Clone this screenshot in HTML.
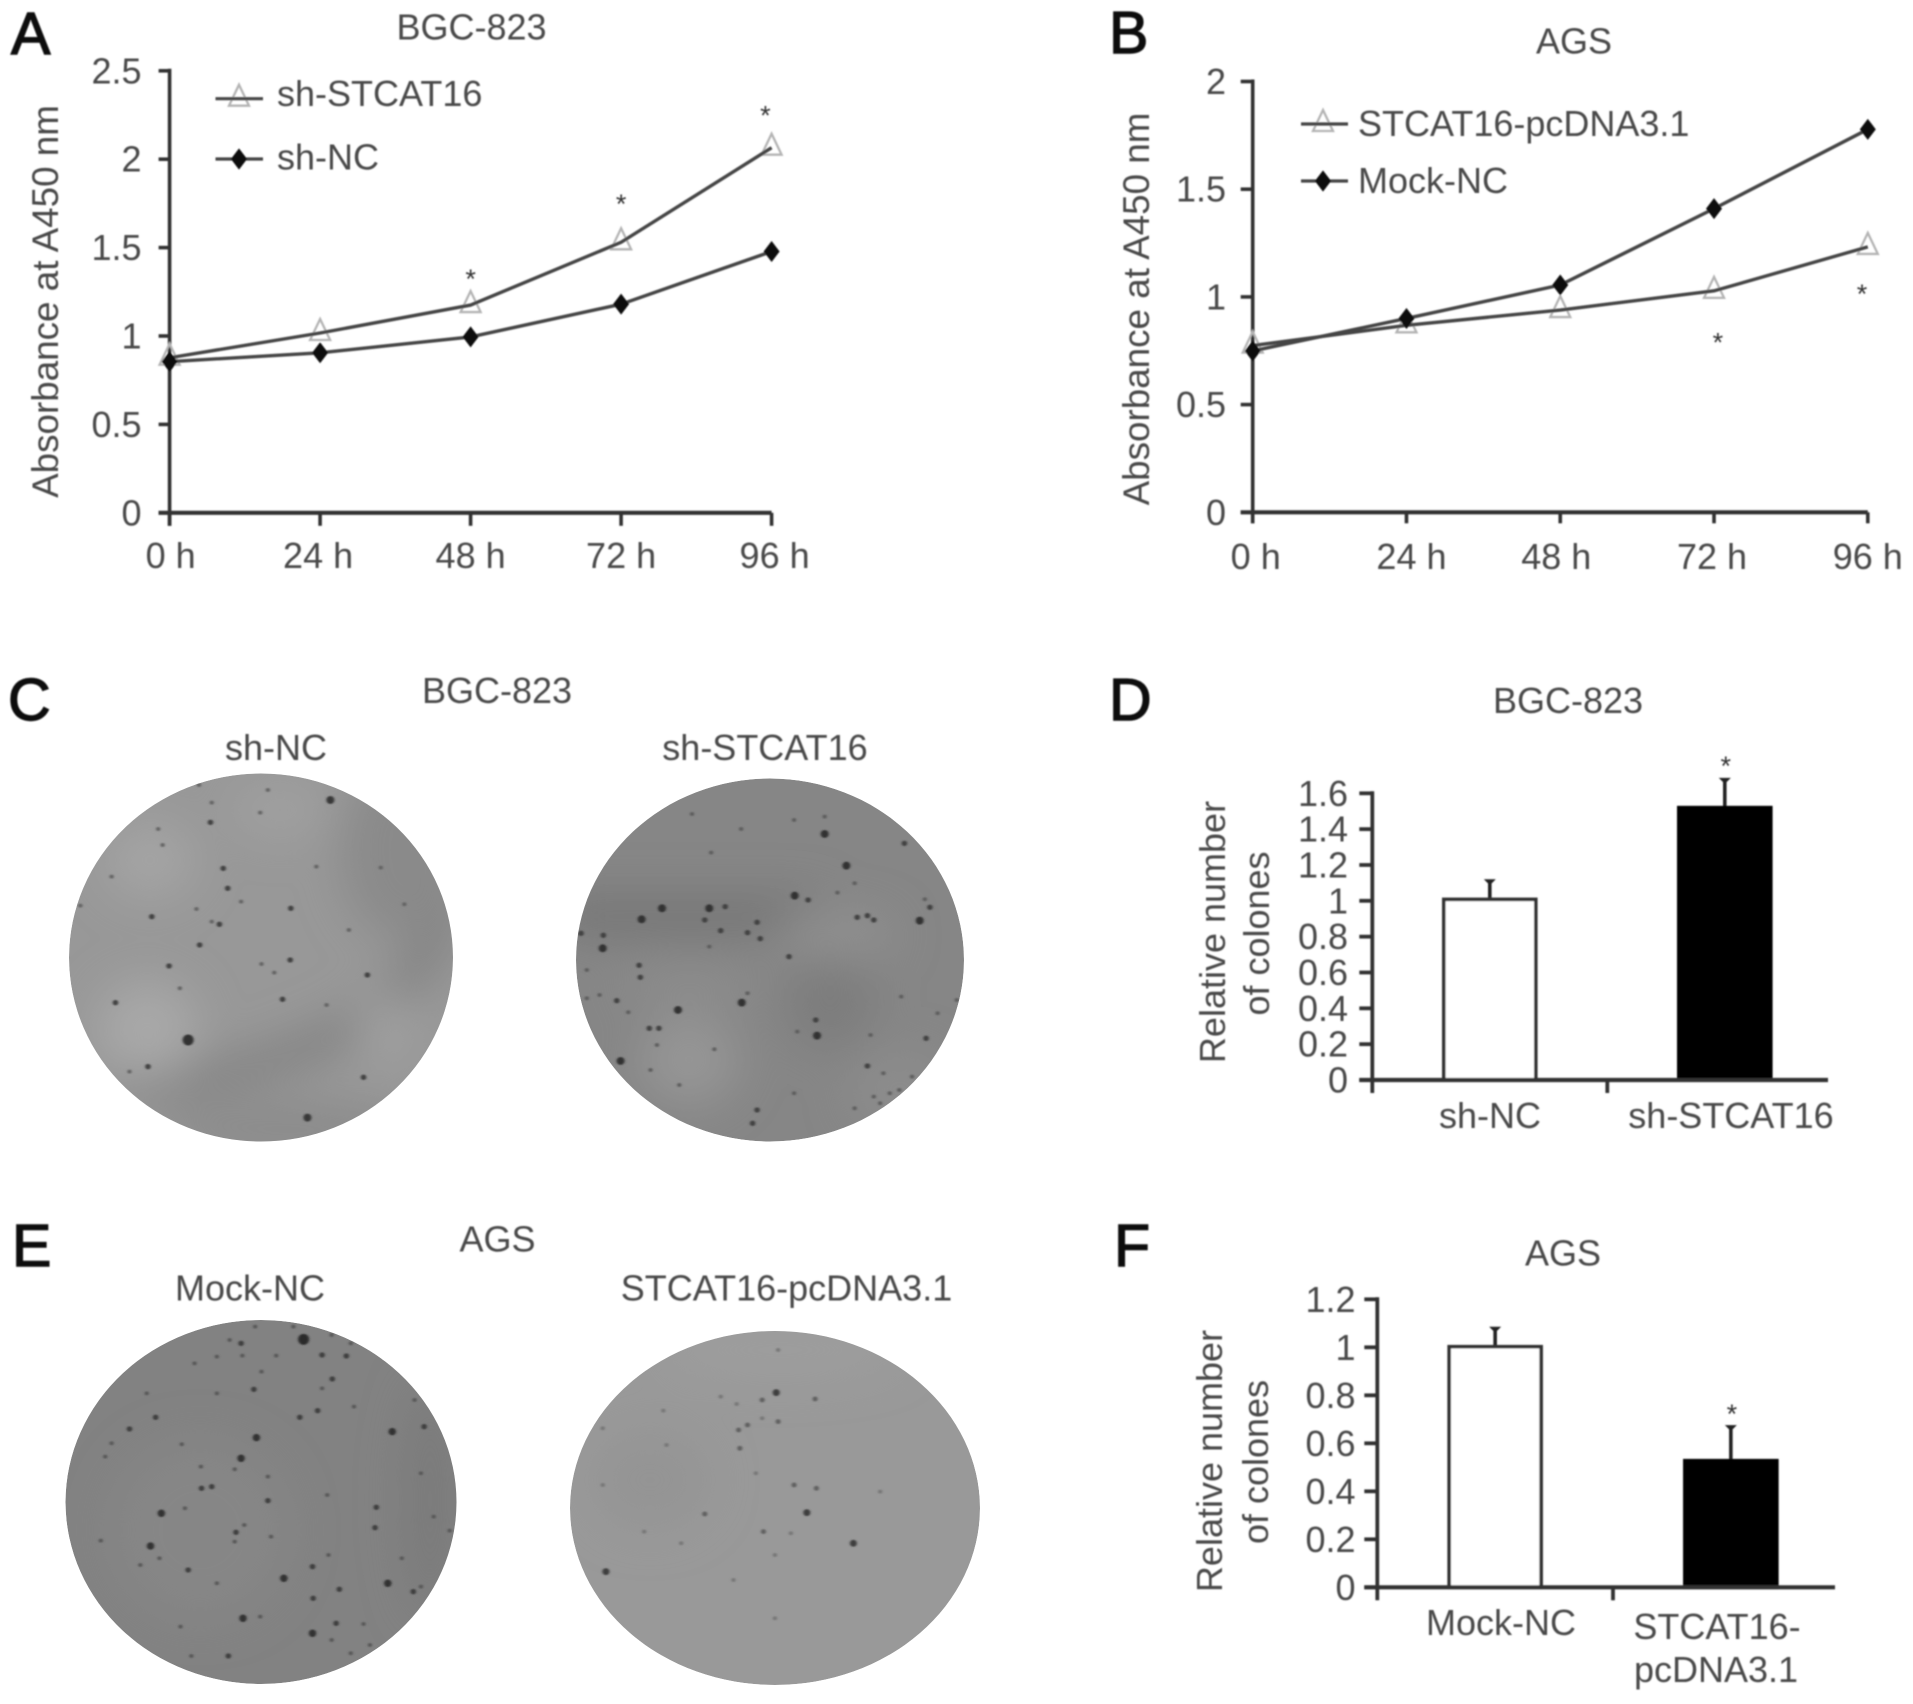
<!DOCTYPE html>
<html>
<head>
<meta charset="utf-8">
<title>STCAT16 colony and absorbance figure</title>
<style>
html,body{margin:0;padding:0;background:#fff;}
svg{display:block;}
text{font-family:"Liberation Sans",sans-serif;fill:#484848;font-size:36px;}
.letter{font-size:59px;fill:#0c0c0c;stroke:#0c0c0c;stroke-width:1.4px;}
.spot{fill:none;stroke-linecap:round;vector-effect:non-scaling-stroke;}
</style>
</head>
<body>
<svg id="figure" xmlns="http://www.w3.org/2000/svg" width="1913" height="1704" viewBox="0 0 1913 1704">
<defs>
<filter id="soft" x="-2%" y="-2%" width="104%" height="104%"><feGaussianBlur stdDeviation="0.9"/></filter>
<filter id="blurA" x="-50%" y="-50%" width="200%" height="200%"><feGaussianBlur stdDeviation="22"/></filter>
<filter id="dotBlur" x="-5%" y="-5%" width="110%" height="110%"><feGaussianBlur stdDeviation="2.2"/></filter>
<clipPath id="clip1"><ellipse cx="261" cy="957.5" rx="192" ry="184"/></clipPath>
<clipPath id="clip2"><ellipse cx="770" cy="960" rx="194" ry="181.5"/></clipPath>
<clipPath id="clip3"><ellipse cx="261" cy="1502" rx="195.5" ry="182"/></clipPath>
<clipPath id="clip4"><ellipse cx="775" cy="1508" rx="205" ry="177"/></clipPath>
</defs>

<g id="plates">
  <g clip-path="url(#clip1)">
    <ellipse cx="261" cy="957.5" rx="192" ry="184" fill="#989898"/>
    <g filter="url(#blurA)">
      <path d="M455 860Q445 1000 300 1050Q220 1085 120 1085" fill="none" stroke="#808080" stroke-width="30"/>
      <ellipse cx="400" cy="850" rx="60" ry="90" fill="#8a8a8a"/>
      <ellipse cx="290" cy="1130" rx="130" ry="26" fill="#8a8a8a"/>
      <ellipse cx="150" cy="860" rx="45" ry="38" fill="#a4a4a4"/>
      <ellipse cx="147" cy="1030" rx="50" ry="50" fill="#a8a8a8"/>
      <ellipse cx="385" cy="1030" rx="26" ry="36" fill="#a0a0a0"/>
      <ellipse cx="280" cy="810" rx="50" ry="26" fill="#a0a0a0"/>
    </g>
    <g filter="url(#dotBlur)" transform="translate(0,660) scale(.6378,.3333)">
      <path class="spot" stroke="#303030" stroke-width="11" d="M295 1140h0"/>
      <path class="spot" stroke="#383838" stroke-width="8" d="M518 420h0M482 1373h0"/>
      <path class="spot" stroke="#404040" stroke-width="5.5" d="M350 625h0M357 685h0M238 770h0M344 793h0M455 900h0M265 918h0M576 945h0M181 1028h0M443 1018h0M232 1220h0M570 1252h0M330 487h0M456 745h0M313 855h0"/>
      <path class="spot" stroke="#606060" stroke-width="4" d="M312 375h0M420 390h0M332 428h0M408 458h0M248 507h0M175 650h0M496 620h0M597 623h0M378 725h0M126 737h0M634 733h0M308 747h0M332 785h0M547 810h0M410 912h0M430 938h0M282 985h0M203 1235h0M512 1035h0M255 555h0"/>
    </g>
  </g>
  <g clip-path="url(#clip2)">
    <ellipse cx="770" cy="960" rx="194" ry="181.5" fill="#868686"/>
    <g filter="url(#blurA)">
      <rect x="560" y="895" width="260" height="42" fill="#767676"/>
      <ellipse cx="830" cy="1000" rx="45" ry="50" fill="#7d7d7d"/>
      <ellipse cx="689" cy="1060" rx="50" ry="45" fill="#959595"/>
      <ellipse cx="835" cy="935" rx="60" ry="22" fill="#919191"/>
      <ellipse cx="690" cy="985" rx="70" ry="20" fill="#8c8c8c"/>
      <ellipse cx="900" cy="1090" rx="50" ry="40" fill="#8c8c8c"/>
    </g>
    <g filter="url(#dotBlur)" transform="translate(0,660) scale(.6378,.3333)">
      <path class="spot" stroke="#303030" stroke-width="8" d="M1038 745h0M1112 745h0M1006 778h0M945 865h0M1293 522h0M1327 617h0M1246 707h0M1442 782h0M1281 1127h0M1063 1050h0M1163 1028h0M973 1203h0"/>
      <path class="spot" stroke="#404040" stroke-width="5.5" d="M946 826h0M1002 916h0M1004 952h0M1137 740h0M1267 720h0M1187 787h0M1192 836h0M1130 812h0M1105 780h0M1360 767h0M1370 780h0M1458 742h0M1418 550h0M911 820h0M967 1022h0M1018 1105h0M1033 1105h0M1279 1080h0M1187 1350h0M1180 1390h0M1360 1218h0M1452 1135h0M1237 890h0M1172 818h0M1344 772h0"/>
      <path class="spot" stroke="#5a5a5a" stroke-width="4" d="M1085 462h0M1162 507h0M1245 480h0M1293 470h0M1115 578h0M1340 670h0M1313 698h0M1450 718h0M920 930h0M940 1005h0M920 1015h0M985 1057h0M1112 860h0M1413 1010h0M1470 1060h0M1500 1020h0M1365 1125h0M1250 1115h0M1120 1168h0M1030 1155h0M1065 1275h0M1245 1300h0M1020 1230h0M1380 1330h0M1395 1300h0M1410 1290h0M1370 1310h0M1430 1250h0M1340 1345h0M1385 1240h0M1172 1000h0"/>
    </g>
  </g>
  <g clip-path="url(#clip3)">
    <ellipse cx="261" cy="1502" rx="195.5" ry="182" fill="#828282"/>
    <g filter="url(#blurA)">
      <ellipse cx="200" cy="1530" rx="90" ry="90" fill="#868686"/>
      <ellipse cx="430" cy="1500" rx="26" ry="120" fill="#7a7a7a"/>
    </g>
    <g filter="url(#dotBlur)" transform="translate(0,1200) scale(.6378,.3333)">
      <path class="spot" stroke="#2c2c2c" stroke-width="11" d="M476 418h0"/>
      <path class="spot" stroke="#303030" stroke-width="7.5" d="M402 713h0M378 775h0M253 940h0M236 1038h0M445 1135h0M608 1150h0M381 1255h0M615 695h0M490 1300h0"/>
      <path class="spot" stroke="#3c3c3c" stroke-width="5.5" d="M378 430h0M543 468h0M521 537h0M244 652h0M203 687h0M470 652h0M498 632h0M316 865h0M332 860h0M420 902h0M590 922h0M588 983h0M370 997h0M490 1100h0M491 1195h0M527 1270h0M358 1368h0M648 1175h0M532 1168h0M665 680h0M505 465h0M398 568h0M295 1110h0"/>
      <path class="spot" stroke="#555" stroke-width="4" d="M360 420h0M400 380h0M460 380h0M520 405h0M550 430h0M433 467h0M380 467h0M340 470h0M410 515h0M305 490h0M505 565h0M230 580h0M340 580h0M555 620h0M650 600h0M175 730h0M165 770h0M285 733h0M315 800h0M368 808h0M420 830h0M660 820h0M513 885h0M290 925h0M383 975h0M425 1010h0M368 1025h0M158 1022h0M250 1075h0M515 1065h0M630 1075h0M220 1095h0M340 1150h0M408 1250h0M283 1280h0M570 1272h0M520 1320h0M300 1368h0M550 1360h0M580 1335h0M705 992h0M680 950h0M660 1160h0"/>
    </g>
  </g>
  <g clip-path="url(#clip4)">
    <ellipse cx="775" cy="1508" rx="205" ry="177" fill="#999"/>
    <g filter="url(#blurA)">
      <ellipse cx="650" cy="1480" rx="60" ry="50" fill="#949494"/>
      <ellipse cx="780" cy="1350" rx="120" ry="25" fill="#9e9e9e"/>
    </g>
    <g filter="url(#dotBlur)" transform="translate(0,1200) scale(.6378,.3333)">
      <path class="spot" stroke="#3c3c3c" stroke-width="7" d="M1217 578h0M1265 938h0M950 1115h0M1338 1030h0"/>
      <path class="spot" stroke="#5e5e5e" stroke-width="5" d="M1195 600h0M1158 690h0M1172 675h0M1220 665h0M1280 865h0M1245 855h0M1105 942h0M1160 745h0M1197 995h0M1278 597h0"/>
      <path class="spot" stroke="#747474" stroke-width="4" d="M1155 612h0M1195 655h0M1040 632h0M945 685h0M1045 735h0M945 855h0M1130 590h0M1185 820h0M1380 875h0M1068 1030h0M1215 1065h0M1215 1255h0M1220 450h0M1010 995h0M1240 1000h0M1150 1140h0"/>
    </g>
  </g>
</g>

<g id="ink" filter="url(#soft)">
  <text class="letter" x="11" y="54">A</text>
  <text class="letter" x="1109" y="53">B</text>
  <text class="letter" x="8" y="720">C</text>
  <text class="letter" x="1109" y="720">D</text>
  <text class="letter" x="12" y="1266">E</text>
  <text class="letter" x="1114" y="1266">F</text>

  <text x="471.5" y="39.5" text-anchor="middle">BGC-823</text>
  <text x="1574" y="53.5" text-anchor="middle">AGS</text>
  <text x="497" y="703" text-anchor="middle">BGC-823</text>
  <text x="276" y="760" text-anchor="middle">sh-NC</text>
  <text x="765" y="760" text-anchor="middle">sh-STCAT16</text>
  <text x="1568" y="713" text-anchor="middle">BGC-823</text>
  <text x="497.5" y="1251.5" text-anchor="middle">AGS</text>
  <text x="250" y="1300.5" text-anchor="middle">Mock-NC</text>
  <text x="786.5" y="1300.5" text-anchor="middle">STCAT16-pcDNA3.1</text>
  <text x="1563" y="1265.5" text-anchor="middle">AGS</text>

  <text transform="translate(58,301.5) rotate(-90)" text-anchor="middle" style="font-size:36.8px">Absorbance at A450 nm</text>
  <text transform="translate(1149,309) rotate(-90)" text-anchor="middle" style="font-size:36.8px">Absorbance at A450 nm</text>
  <text transform="translate(1225,932) rotate(-90)" text-anchor="middle" style="font-size:36px">Relative number</text>
  <text transform="translate(1269,933.5) rotate(-90)" text-anchor="middle" style="font-size:36px">of colones</text>
  <text transform="translate(1222,1461) rotate(-90)" text-anchor="middle" style="font-size:36px">Relative number</text>
  <text transform="translate(1268,1462) rotate(-90)" text-anchor="middle" style="font-size:36px">of colones</text>
</g>
</svg>

<script>
// ---- Panel A data ----
const timeLabels = ['0 h', '24 h', '48 h', '72 h', '96 h'];
const timeHours = [0, 24, 48, 72, 96];
const aYTicks = [0, 0.5, 1, 1.5, 2, 2.5];
const aStcat = [0.877, 1.017, 1.175, 1.53, 2.065];
const aNc = [0.855, 0.905, 0.995, 1.18, 1.478];
const aStarHours = [48, 72, 95];
const aStarValues = [1.356, 1.78, 2.28];

// ---- Panel B data ----
const bYTicks = [0, 0.5, 1, 1.5, 2];
const bStcat = [0.774, 0.868, 0.939, 1.028, 1.232];
const bMock = [0.749, 0.9, 1.055, 1.41, 1.778];
const bStarHours = [72.6, 95.1];
const bStarValues = [0.815, 1.042];

// ---- Panel D data ----
const dYTicks = [0, 0.2, 0.4, 0.6, 0.8, 1, 1.2, 1.4, 1.6];
const dValues = [1.008, 1.52];
const dErrors = [0.104, 0.158];
const dStarValues = [null, 1.786];

// ---- Panel F data ----
const fYTicks = [0, 0.2, 0.4, 0.6, 0.8, 1, 1.2];
const fValues = [1.0025, 0.5275];
const fErrors = [0.077, 0.142];
const fStarValues = [null, 0.748];

const ink = document.getElementById('ink');
const NS = 'http://www.w3.org/2000/svg';
const AXIS = '#333';

function mk(parent, tag, attrs, txt) {
  const node = document.createElementNS(NS, tag);
  for (const k in attrs) node.setAttribute(k, attrs[k]);
  if (txt !== undefined) node.textContent = txt;
  parent.appendChild(node);
  return node;
}

function triangle(parent, cx, cy) {
  const d = 'M' + cx + ' ' + (cy - 14) + 'L' + (cx + 10) + ' ' + (cy + 7) + 'L' + (cx - 10) + ' ' + (cy + 7) + 'Z';
  return mk(parent, 'path', { d: d, fill: 'none', stroke: '#b4b4b4', 'stroke-width': 2.3 });
}

function diamond(parent, cx, cy) {
  const d = 'M' + cx + ' ' + (cy - 10.5) + 'L' + (cx + 8) + ' ' + cy + 'L' + cx + ' ' + (cy + 10.5) + 'L' + (cx - 8) + ' ' + cy + 'Z';
  return mk(parent, 'path', { d: d, fill: '#111' });
}

function star(parent, cx, cy) {
  return mk(parent, 'text', { x: cx, y: cy + 15, 'text-anchor': 'middle', style: 'font-size:27px;fill:#333' }, '*');
}

function yAxis(parent, p, ticks) {
  const scale = v => p.y0 - v * (p.y0 - p.yTop) / ticks[ticks.length - 1];
  const axis = mk(parent, 'line', { x1: p.x0, x2: p.x0, y1: p.yTop - 2, y2: p.y0 + p.tickDown, stroke: AXIS, 'stroke-width': p.axisW });
  
  
  ticks.forEach(function (v) {
    const t = mk(parent, 'line', { x1: p.x0 - p.tickLeft, x2: p.x0, y1: scale(v), y2: scale(v), stroke: AXIS, 'stroke-width': p.axisW });
    
    
    const l = mk(parent, 'text', { x: p.labelRight, y: scale(v) + 12.5, 'text-anchor': 'end' }, String(v));
    
    
  });
  return scale;
}

function lineChart(p, ticks, seriesA, seriesB, drawA, drawB, starHours, starValues) {
  const g = mk(ink, 'g', {});
  
  
  const y = yAxis(g, p, ticks);
  const x = h => p.x0 + h * (p.x1 - p.x0) / 96;
  const xAxis = mk(g, 'line', { x1: p.x0 - p.tickLeft, x2: p.x1, y1: p.y0, y2: p.y0, stroke: AXIS, 'stroke-width': p.axisW + 0.5 });
  
  
  timeHours.forEach(function (h, i) {
    const t = mk(g, 'line', { x1: x(h), x2: x(h), y1: p.y0, y2: p.y0 + p.tickDown, stroke: AXIS, 'stroke-width': p.axisW });
    
    
    const l = mk(g, 'text', { x: x(h) + p.labelShift[i], y: p.xLabelY, 'text-anchor': 'middle' }, timeLabels[i]);
    
    
  });
  seriesA.forEach(function (v, i) {
    const m = drawA(g, x(timeHours[i]), y(v));
    
    
  });
  const pts = s => s.map((v, i) => x(timeHours[i]) + ',' + y(v)).join(' ');
  [seriesA, seriesB].forEach(function (s) {
    const poly = mk(g, 'polyline', { points: pts(s), fill: 'none', stroke: '#444', 'stroke-width': 3.4 });
    
    
  });
  seriesB.forEach(function (v, i) {
    const m = drawB(g, x(timeHours[i]), y(v));
    
    
  });
  starHours.forEach(function (h, i) {
    const s = star(g, x(h), y(starValues[i]));
    
    
  });
}

function legendEntry(parent, x1, x2, yLine, cx, textX, baseline, label, draw) {
  const g = mk(parent, 'g', {});
  
  
  draw(g, cx, yLine);
  mk(g, 'line', { x1: x1, x2: x2, y1: yLine, y2: yLine, stroke: '#444', 'stroke-width': 3.2 });
  if (draw === diamond) draw(g, cx, yLine);
  mk(g, 'text', { x: textX, y: baseline }, label);
}

function barChart(p, ticks, values, errors, stars, catLines) {
  const g = mk(ink, 'g', {});
  
  
  const y = yAxis(g, p, ticks);
  const cx = i => p.x0 + p.band * (i + 0.5);
  values.forEach(function (v, i) {
    const top = y(v);
    const cap = y(v + errors[i]);
    const whisker = mk(g, 'line', { x1: cx(i), x2: cx(i), y1: cap, y2: top, stroke: '#222', 'stroke-width': 3.6 });
    
    
    const capMark = mk(g, 'path', { d: 'M' + (cx(i) - 6) + ' ' + (cap - 1.5) + 'h12l-4 4h-4z', fill: '#222' });
    
    
    const bar = mk(g, 'rect', { x: cx(i) - p.barHalf, y: top, width: p.barHalf * 2, height: p.y0 - top,
      fill: i === 0 ? '#fff' : '#000', stroke: i === 0 ? '#333' : '#000', 'stroke-width': 3.6 });
    
    
    if (stars[i] !== null) {
      const s = star(g, cx(i) + 1, y(stars[i]));
      
      
    }
  });
  const xAxis = mk(g, 'line', { x1: p.x0 - p.tickLeft, x2: p.xEnd, y1: p.y0, y2: p.y0, stroke: AXIS, 'stroke-width': p.axisW + 0.4 });
  
  
  const mid = mk(g, 'line', { x1: p.x0 + p.band, x2: p.x0 + p.band, y1: p.y0, y2: p.y0 + p.tickDown, stroke: AXIS, 'stroke-width': p.axisW });
  
  
  catLines.forEach(function (c) {
    const l = mk(g, 'text', { x: c.x, y: c.y, 'text-anchor': 'middle' }, c.t);
    
    
  });
}

lineChart({ name: 'panel-a-line-chart', x0: 169.6, x1: 771.6, y0: 512.8, yTop: 70.8, tickLeft: 11, tickDown: 13, axisW: 3.6, labelRight: 141.5, labelShift: [1, -2, 0, 0, 3], xLabelY: 568 },
  aYTicks, aStcat, aNc, triangle, diamond, aStarHours, aStarValues);
legendEntry(ink, 215.5, 263, 98.7, 239, 277, 106, 'sh-STCAT16', triangle);
legendEntry(ink, 215.5, 263, 159, 239, 277, 169.5, 'sh-NC', diamond);

lineChart({ name: 'panel-b-line-chart', x0: 1252.7, x1: 1867.8, y0: 512.3, yTop: 81.5, tickLeft: 12, tickDown: 11, axisW: 3.6, labelRight: 1226, labelShift: [3, 5, -4, -2, 0], xLabelY: 569 },
  bYTicks, bStcat, bMock, triangle, diamond, bStarHours, bStarValues);
legendEntry(ink, 1301, 1348, 124, 1323, 1358, 136, 'STCAT16-pcDNA3.1', triangle);
legendEntry(ink, 1301, 1348, 181, 1323, 1358, 193, 'Mock-NC', diamond);

barChart({ name: 'panel-d-bar-chart', x0: 1372.3, y0: 1080, yTop: 793.3, band: 235, barHalf: 46, xEnd: 1828, tickLeft: 13, tickDown: 13, axisW: 3.8, labelRight: 1348 },
  dYTicks, dValues, dErrors, dStarValues,
  [{ x: 1490, y: 1128, t: 'sh-NC' }, { x: 1731, y: 1128, t: 'sh-STCAT16' }]);

barChart({ name: 'panel-f-bar-chart', x0: 1377.3, y0: 1587.3, yTop: 1299.3, band: 235.7, barHalf: 46, xEnd: 1835, tickLeft: 13, tickDown: 13, axisW: 3.8, labelRight: 1355.5 },
  fYTicks, fValues, fErrors, fStarValues,
  [{ x: 1501, y: 1635, t: 'Mock-NC' }, { x: 1717, y: 1639, t: 'STCAT16-' }, { x: 1716, y: 1682, t: 'pcDNA3.1' }]);
</script>
</body>
</html>
